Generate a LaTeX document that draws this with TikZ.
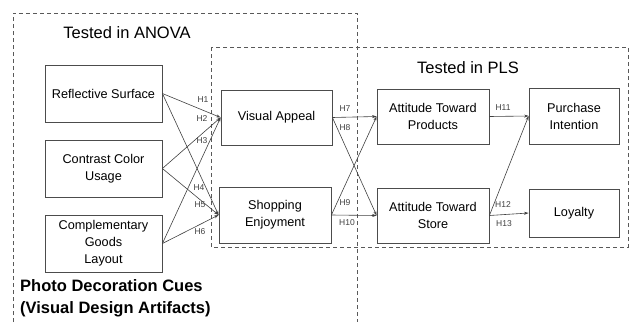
\documentclass[tikz,border=0pt]{standalone}
\usepackage{fontspec}
\setmainfont{Liberation Sans}
\usetikzlibrary{arrows.meta}

\begin{document}
\begin{tikzpicture}[x=1pt, y=-1pt,
    cue/.style={draw=black!70, line width=0.8pt, align=center, inner sep=0pt,
      font=\fontsize{12.7}{17}\selectfont},
    hyp/.style={text=black!75, inner sep=0pt, font=\fontsize{8.5}{10}\selectfont},
    link/.style={draw=black!75, line width=0.6pt, -{Stealth[length=4.5pt, width=3pt]}},
    testbox/.style={draw=black!65, line width=0.7pt, dash pattern=on 4pt off 3pt},
    title/.style={inner sep=0pt, font=\fontsize{16.5}{20}\selectfont}]

  \useasboundingbox (0,0) rectangle (629,322);

  % Draw the dashed test regions
  \draw[testbox] (13,322) -- (13,13) -- (357,13) -- (357,322);
  \draw[testbox] (211,47) rectangle (628,247);

  % Titles
  \node[title] (anova) at (127,33) {Tested in ANOVA};
  \node[title] (pls) at (468,68) {Tested in PLS};
  \node[title, anchor=west, align=left,
    font=\bfseries\fontsize{16.5}{22}\selectfont] (cues) at (20,298)
    {Photo Decoration Cues\\(Visual Design Artifacts)};

  % Draw the constructs
  \node[cue, minimum width=117pt, minimum height=57pt] (refl) at (103.5,93.5) {Reflective Surface};
  \node[cue, minimum width=117pt, minimum height=57pt] (contr) at (103.5,168.5) {Contrast Color\\Usage};
  \node[cue, minimum width=117pt, minimum height=57pt] (compl) at (103.5,243.5) {Complementary\\Goods\\Layout};
  \node[cue, minimum width=111pt, minimum height=55pt] (visual) at (276.5,117.5) {Visual Appeal};
  \node[cue, minimum width=112pt, minimum height=56pt] (shop) at (275,215) {Shopping\\Enjoyment};
  \node[cue, minimum width=112pt, minimum height=55pt] (attprod) at (433,116.5) {Attitude Toward\\Products};
  \node[cue, minimum width=112pt, minimum height=55pt] (attstore) at (433,215.5) {Attitude Toward\\Store};
  \node[cue, minimum width=90pt, minimum height=56pt] (purch) at (574,116) {Purchase\\Intention};
  \node[cue, minimum width=90pt, minimum height=48pt] (loyal) at (574,213) {Loyalty};

  % Draw the paths
  \foreach \s in {refl, contr, compl}
    \foreach \t in {visual, shop}
      \draw[link] (\s.east) -- (\t.west);
  \foreach \s in {visual, shop}
    \foreach \t in {attprod, attstore}
      \draw[link] (\s.east) -- (\t.west);
  \draw[link] (attprod.east) -- (purch.west);
  \draw[link] (attstore.east) -- (purch.west);
  \draw[link] (attstore.east) -- (loyal.west);

  % Hypothesis labels
  \foreach \n/\x/\y in {1/203/100, 2/202/119, 3/202/141, 4/199/188, 5/200/205,
      6/200/232, 7/345/109, 8/345/128, 9/345/203, 10/347/223,
      11/503/108, 12/503/205, 13/504/224}
    \node[hyp] (h\n) at (\x,\y) {H\n};
\end{tikzpicture}
\end{document}
